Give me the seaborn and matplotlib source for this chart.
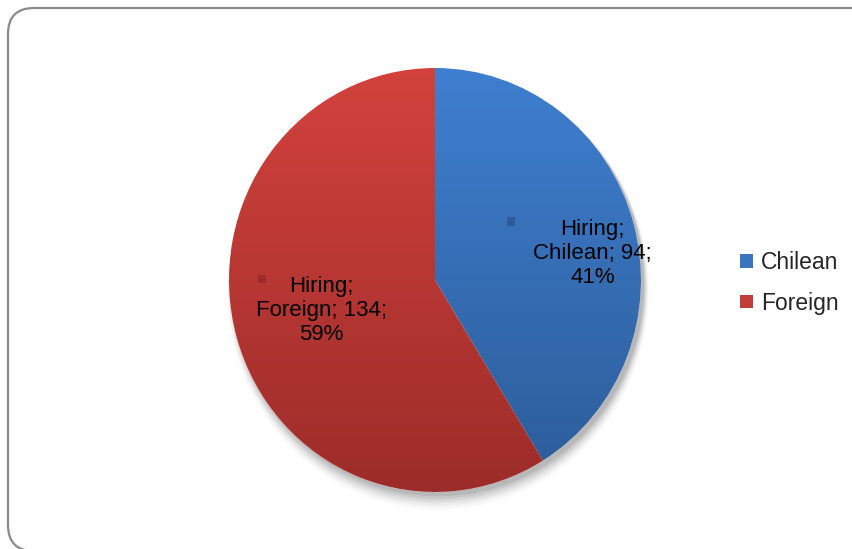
import numpy as np
import matplotlib
matplotlib.use("Agg")
import matplotlib.pyplot as plt
import seaborn as sns
from matplotlib.patches import FancyBboxPatch, Patch, Rectangle, Ellipse
from matplotlib.colors import LinearSegmentedColormap

# Data
categories = ["Chilean", "Foreign"]
counts = [94, 134]
series_name = "Hiring"

# Colours (top, bottom of each slice gradient)
top_colors = ["#3f7fd0", "#d3423d"]
bottom_colors = ["#2c5c98", "#9c2c29"]
legend_colors = ["#3a74c0", "#c23c38"]

sns.set_theme(style="white")
plt.rcParams["font.family"] = ["Liberation Sans", "DejaVu Sans"]

W, H = 853, 549
fig = plt.figure(figsize=(W / 100, H / 100), dpi=100)
fig.patch.set_facecolor("white")

# Background axes in pixel units (origin bottom-left) for the rounded frame
bg = fig.add_axes([0, 0, 1, 1])
bg.set_xlim(0, W)
bg.set_ylim(0, H)
bg.axis("off")
frame = FancyBboxPatch((8, H - 551), 872, 543,
                       boxstyle="round,pad=0,rounding_size=26",
                       facecolor="none", edgecolor="#8a8a8a", linewidth=1.6,
                       clip_on=False)
bg.add_patch(frame)

# Pie axes
left, right, top, bottom = 229, 641, 68, 492
ax = fig.add_axes([left / W, (H - bottom) / H, (right - left) / W, (bottom - top) / H])
ax.set_xlim(-1, 1)
ax.set_ylim(-1, 1)
ax.set_aspect("auto")
ax.axis("off")

# Soft shadow beneath the pie
for i, a in enumerate(np.linspace(0.07, 0.015, 7)):
    sh = Ellipse((0.015, -0.02 - i * 0.005), 2.0 + i * 0.008, 2.0 + i * 0.012,
                 facecolor="black", edgecolor="none", alpha=a, zorder=0,
                 clip_on=False)
    ax.add_patch(sh)

wedges, _ = ax.pie(counts, startangle=90, counterclock=False, radius=1.0,
                   colors=["none", "none"], wedgeprops=dict(linewidth=0))

grad = np.linspace(0, 1, 256).reshape(-1, 1)
for w, c0, c1 in zip(wedges, top_colors, bottom_colors):
    w.set_facecolor("white")
    w.set_zorder(1)
    w.set_clip_on(False)
    cmap = LinearSegmentedColormap.from_list("g", [c0, c1])
    im = ax.imshow(grad, cmap=cmap, extent=[-1, 1, -1, 1], origin="upper",
                   aspect="auto", zorder=2, interpolation="bilinear")
    im.set_clip_path(w)
ax.set_xlim(-1, 1)
ax.set_ylim(-1, 1)

# Data labels
total = sum(counts)
label_pos = [(0.765, 0.125), (-0.55, -0.145)]
key_pos = [(0.37, 0.275), (-0.84, 0.005)]
for cat, n, (x, y), (kx, ky), c0, c1 in zip(categories, counts, label_pos, key_pos,
                                            top_colors, bottom_colors):
    pct = round(100 * n / total)
    ax.text(x, y, f"{series_name};\n{cat}; {n};\n{pct}%", ha="center", va="center",
            fontsize=16, color="black", linespacing=1.2, zorder=5)
    ax.add_patch(Rectangle((kx - 0.02, ky - 0.02), 0.04, 0.04, facecolor=c1,
                           edgecolor="none", zorder=5))

# Legend
handles = [Patch(facecolor=c, edgecolor="none") for c in legend_colors]
fig.legend(handles, categories, loc="center left",
           bbox_to_anchor=(729 / W, 1 - 283 / H), frameon=False, fontsize=16.5,
           handlelength=0.55, handleheight=0.55, handletextpad=0.35,
           labelspacing=0.75, borderpad=0)

fig.savefig("out.png", dpi=100, facecolor="white")
